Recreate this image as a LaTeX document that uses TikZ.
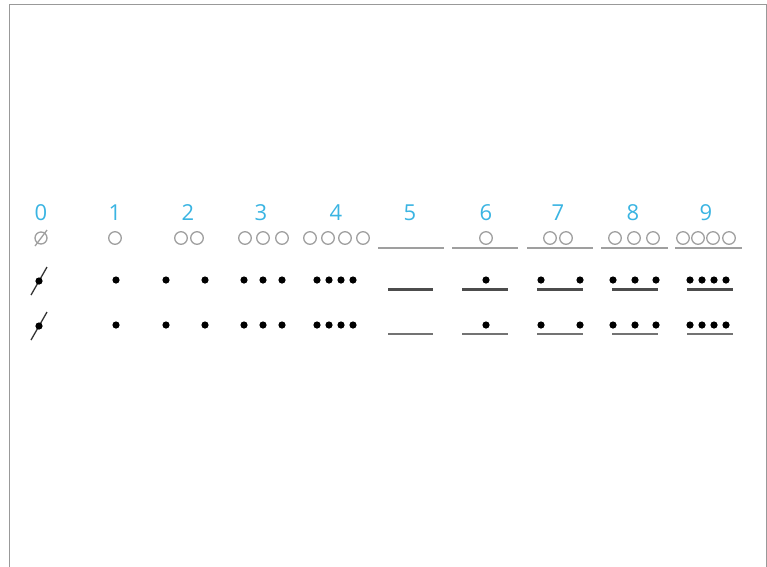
\documentclass[tikz,border=0pt]{standalone}
\usepackage{fontspec}
\setmainfont{Open Sans}
\usepackage{xcolor}
\usepackage{tikz}
\definecolor{numblue}{RGB}{58,180,226}

\begin{document}
\begin{tikzpicture}[x=1pt, y=-1pt,
  num/.style={font=\fontsize{22}{22}\selectfont, text=numblue, inner sep=0pt},
  ring/.style={draw=gray!75, line width=1.3pt},
  pip/.style={fill=black},
  hbar/.style={line width=1.8pt, draw=gray!75},
  bar/.style={line width=3pt, draw=black!70},
  thinbar/.style={line width=1.5pt, draw=black!55},
  slash/.style={line width=1.3pt, draw=black!80},
]
\useasboundingbox (0,0) rectangle (767,566);
% frame, open at the bottom
\draw[gray!80, line width=0.8pt] (9,570) -- (9,4) -- (766,4) -- (766,570);

% digit heads
\foreach \d/\x in {0/41, 1/115, 2/188, 3/261, 4/336, 5/410, 6/486, 7/558, 8/633, 9/706}
  \node[num] (d\d) at (\x,213) {\d};

% first row: rings and long bars
\draw[ring] (41,238) circle (6);
\draw[ring] (35,246) -- (47,230);
\foreach \x in {115, 181, 197, 245, 263, 282, 310, 328, 345, 363,
                486, 550, 566, 615, 634, 653, 683, 698, 713, 729}
  \draw[ring] (\x,238) circle (6.3);
\foreach \a/\b in {378/444, 452/518, 527/593, 601/668, 675/742}
  \draw[hbar] (\a,248) -- (\b,248);

% second and third rows: dots and short bars
\foreach \y/\bs in {280/bar, 325/thinbar} {
  \draw[slash] (31,\y+15) -- (47,\y-13);
  \fill[pip] (39,\y+1) circle (3.6);
  \foreach \x in {116, 166, 205, 244, 263, 282, 317, 329, 341, 353,
                  486, 541, 580, 613, 635, 656, 690, 702, 714, 726}
    \fill[pip] (\x,\y) circle (3.6);
  \foreach \a/\b in {388/433, 462/508, 537/583, 612/658, 687/733}
    \draw[\bs] (\a,\y+9) -- (\b,\y+9);
}
\end{tikzpicture}
\end{document}
